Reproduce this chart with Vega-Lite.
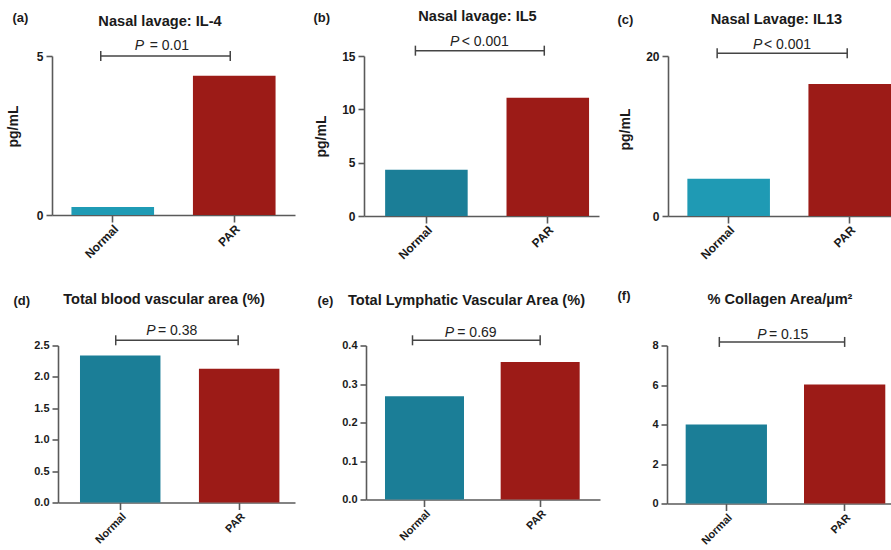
{
  "$schema": "https://vega.github.io/schema/vega-lite/v6.json",
  "background": "white",
  "padding": {"left": 6, "top": 9, "right": 0, "bottom": 0},
  "config": {
    "font": "Liberation Sans",
    "view": {"stroke": null},
    "axis": {"domainColor": "#5a5a5a", "domainWidth": 1.6, "tickColor": "#5a5a5a", "tickWidth": 1.6, "labelColor": "#1a1a1a", "labelFontWeight": "bold", "labelFont": "Liberation Sans", "titleFont": "Liberation Sans", "titleFontWeight": "bold", "titleColor": "#1a1a1a", "grid": false, "labelOverlap": false},
    "axisX": {"labelAngle": -45, "tickSize": 7, "labelPadding": 1, "titleAngle": 0, "titleAlign": "left", "titleBaseline": "middle", "titleFontSize": 13},
    "axisY": {"tickSize": 6, "labelPadding": 3, "titleFontSize": 14, "tickCount": 10},
    "title": {"font": "Liberation Sans", "fontSize": 14.6, "fontWeight": "bold", "color": "#1a1a1a", "anchor": "middle", "frame": "group", "baseline": "alphabetic"}
  },
  "spacing": 26.5,
  "resolve": {"scale": {"color": "independent"}},
  "vconcat": [
    {
      "spacing": 0,
      "bounds": "flush",
      "resolve": {"scale": {"color": "independent"}},
      "hconcat": [
        {
          "width": 243, "height": 159,
          "title": {"text": "Nasal lavage: IL-4", "dx": -13.5, "offset": -17.5},
          "data": {"values": [{"group": "Normal", "value": 0.25}, {"group": "PAR", "value": 4.38}]},
          "layer": [
            {"mark": "bar", "encoding": {
              "x": {"field": "group", "type": "nominal", "scale": {"domain": ["Normal", "PAR"], "paddingInner": 0.32, "paddingOuter": 0.16, "align": 0.5}, "axis": {"title": "(a)", "titleX": -40, "titleY": -198, "labelFontSize": 12}},
              "y": {"field": "value", "type": "quantitative", "scale": {"domain": [0, 5], "nice": false}, "axis": {"title": "pg/mL", "values": [0, 5], "format": "d", "tickCount": 10, "labelOverlap": false, "labelFontSize": 12, "titlePadding": 16, "titleY": 70}},
              "color": {"field": "group", "type": "nominal", "scale": {"domain": ["Normal", "PAR"], "range": ["#1f9bb5", "#9c1b17"]}, "legend": null}}},
            {"data": {"values": [{"from": "Normal", "to": "PAR", "yb": 5, "p": "P", "rest": "= 0.01"}]},
             "layer": [
              {"mark": {"type": "rule", "color": "#444", "strokeWidth": 1.5, "xOffset": -12, "x2Offset": -4}, "encoding": {"x": {"field": "from", "type": "nominal"}, "x2": {"field": "to"}, "y": {"field": "yb", "type": "quantitative"}}},
              {"mark": {"type": "rule", "color": "#444", "strokeWidth": 1.5, "xOffset": -12, "yOffset": -5, "y2Offset": 5}, "encoding": {"x": {"field": "from", "type": "nominal"}, "y": {"field": "yb", "type": "quantitative"}, "y2": {"field": "yb"}}},
              {"mark": {"type": "rule", "color": "#444", "strokeWidth": 1.5, "xOffset": -4, "yOffset": -5, "y2Offset": 5}, "encoding": {"x": {"field": "to", "type": "nominal"}, "y": {"field": "yb", "type": "quantitative"}, "y2": {"field": "yb"}}},
              {"mark": {"type": "text", "fontStyle": "italic", "fontSize": 14, "align": "right", "baseline": "alphabetic", "dx": -29.5, "dy": -6, "color": "#222"}, "encoding": {"y": {"field": "yb", "type": "quantitative"}, "text": {"field": "p"}}},
              {"mark": {"type": "text", "fontSize": 14, "align": "left", "baseline": "alphabetic", "dx": -23.8, "dy": -6, "color": "#222"}, "encoding": {"y": {"field": "yb", "type": "quantitative"}, "text": {"field": "rest"}}}
             ]}
          ]
        },
        {"width": 69, "height": 10, "data": {"values": []}, "mark": "point"},
        {
          "width": 235, "height": 160,
          "title": {"text": "Nasal lavage: IL5", "dx": -4, "offset": -13},
          "data": {"values": [{"group": "Normal", "value": 4.33}, {"group": "PAR", "value": 11.08}]},
          "layer": [
            {"mark": "bar", "encoding": {
              "x": {"field": "group", "type": "nominal", "scale": {"domain": ["Normal", "PAR"], "paddingInner": 0.32, "paddingOuter": 0.128, "align": 0.68}, "axis": {"title": "(b)", "titleX": -51, "titleY": -199, "labelFontSize": 12}},
              "y": {"field": "value", "type": "quantitative", "scale": {"domain": [0, 15], "nice": false}, "axis": {"title": "pg/mL", "values": [0, 5, 10, 15], "format": "d", "tickCount": 10, "labelOverlap": false, "labelFontSize": 12, "titlePadding": 13, "titleY": 80}},
              "color": {"field": "group", "type": "nominal", "scale": {"domain": ["Normal", "PAR"], "range": ["#1b7e97", "#9c1b17"]}, "legend": null}}},
            {"data": {"values": [{"from": "Normal", "to": "PAR", "yb": 15.5, "p": "P", "rest": "< 0.001"}]},
             "layer": [
              {"mark": {"type": "rule", "color": "#444", "strokeWidth": 1.5, "xOffset": -11, "x2Offset": -3.5}, "encoding": {"x": {"field": "from", "type": "nominal"}, "x2": {"field": "to"}, "y": {"field": "yb", "type": "quantitative"}}},
              {"mark": {"type": "rule", "color": "#444", "strokeWidth": 1.5, "xOffset": -11, "yOffset": -5, "y2Offset": 5}, "encoding": {"x": {"field": "from", "type": "nominal"}, "y": {"field": "yb", "type": "quantitative"}, "y2": {"field": "yb"}}},
              {"mark": {"type": "rule", "color": "#444", "strokeWidth": 1.5, "xOffset": -3.5, "yOffset": -5, "y2Offset": 5}, "encoding": {"x": {"field": "to", "type": "nominal"}, "y": {"field": "yb", "type": "quantitative"}, "y2": {"field": "yb"}}},
              {"mark": {"type": "text", "fontStyle": "italic", "fontSize": 14, "align": "right", "baseline": "alphabetic", "dx": -22.2, "dy": -5, "color": "#222"}, "encoding": {"y": {"field": "yb", "type": "quantitative"}, "text": {"field": "p"}}},
              {"mark": {"type": "text", "fontSize": 14, "align": "left", "baseline": "alphabetic", "dx": -19.8, "dy": -5, "color": "#222"}, "encoding": {"y": {"field": "yb", "type": "quantitative"}, "text": {"field": "rest"}}}
             ]}
          ]
        },
        {"width": 69, "height": 10, "data": {"values": []}, "mark": "point"},
        {
          "width": 223, "height": 160,
          "title": {"text": "Nasal Lavage: IL13", "dx": -3, "offset": -14},
          "data": {"values": [{"group": "Normal", "value": 4.67}, {"group": "PAR", "value": 16.5}]},
          "layer": [
            {"mark": "bar", "encoding": {
              "x": {"field": "group", "type": "nominal", "scale": {"domain": ["Normal", "PAR"], "paddingInner": 0.318, "paddingOuter": 0.08, "align": 1}, "axis": {"title": "(c)", "titleX": -51, "titleY": -197, "labelFontSize": 12}},
              "y": {"field": "value", "type": "quantitative", "scale": {"domain": [0, 20], "nice": false}, "axis": {"title": "pg/mL", "values": [0, 20], "format": "d", "tickCount": 10, "labelOverlap": false, "labelFontSize": 12, "titlePadding": 13, "titleY": 73}},
              "color": {"field": "group", "type": "nominal", "scale": {"domain": ["Normal", "PAR"], "range": ["#1f9ab4", "#9c1b17"]}, "legend": null}}},
            {"data": {"values": [{"from": "Normal", "to": "PAR", "yb": 20.34, "p": "P", "rest": "< 0.001"}]},
             "layer": [
              {"mark": {"type": "rule", "color": "#444", "strokeWidth": 1.5, "xOffset": -11.5, "x2Offset": -2.5}, "encoding": {"x": {"field": "from", "type": "nominal"}, "x2": {"field": "to"}, "y": {"field": "yb", "type": "quantitative"}}},
              {"mark": {"type": "rule", "color": "#444", "strokeWidth": 1.5, "xOffset": -11.5, "yOffset": -5, "y2Offset": 5}, "encoding": {"x": {"field": "from", "type": "nominal"}, "y": {"field": "yb", "type": "quantitative"}, "y2": {"field": "yb"}}},
              {"mark": {"type": "rule", "color": "#444", "strokeWidth": 1.5, "xOffset": -2.5, "yOffset": -5, "y2Offset": 5}, "encoding": {"x": {"field": "to", "type": "nominal"}, "y": {"field": "yb", "type": "quantitative"}, "y2": {"field": "yb"}}},
              {"mark": {"type": "text", "fontStyle": "italic", "fontSize": 14, "align": "right", "baseline": "alphabetic", "dx": -17.2, "dy": -4.3, "color": "#222"}, "encoding": {"y": {"field": "yb", "type": "quantitative"}, "text": {"field": "p"}}},
              {"mark": {"type": "text", "fontSize": 14, "align": "left", "baseline": "alphabetic", "dx": -15.5, "dy": -4.3, "color": "#222"}, "encoding": {"y": {"field": "yb", "type": "quantitative"}, "text": {"field": "rest"}}}
             ]}
          ]
        }
      ]
    },
    {
      "spacing": 0,
      "bounds": "flush",
      "resolve": {"scale": {"color": "independent"}},
      "hconcat": [
        {"width": 6, "height": 10, "data": {"values": []}, "mark": "point"},
        {
          "width": 237, "height": 157,
          "title": {"text": "Total blood vascular area (%)", "dx": -12.5, "offset": -12.5},
          "data": {"values": [{"group": "Normal", "value": 2.34}, {"group": "PAR", "value": 2.13}]},
          "layer": [
            {"mark": "bar", "encoding": {
              "x": {"field": "group", "type": "nominal", "scale": {"domain": ["Normal", "PAR"], "paddingInner": 0.3235, "paddingOuter": 0.158, "align": 0.585}, "axis": {"title": "(d)", "titleX": -45, "titleY": -202, "labelFontSize": 11}},
              "y": {"field": "value", "type": "quantitative", "scale": {"domain": [0, 2.5], "nice": false}, "axis": {"title": null, "values": [0, 0.5, 1, 1.5, 2, 2.5], "tickCount": 10, "format": ".1f", "labelOverlap": false, "labelFontSize": 11}},
              "color": {"field": "group", "type": "nominal", "scale": {"domain": ["Normal", "PAR"], "range": ["#1b7e97", "#9c1b17"]}, "legend": null}}},
            {"data": {"values": [{"from": "Normal", "to": "PAR", "yb": 2.583, "p": "P", "rest": "= 0.38"}]},
             "layer": [
              {"mark": {"type": "rule", "color": "#444", "strokeWidth": 1.5, "xOffset": -4.5, "x2Offset": -1}, "encoding": {"x": {"field": "from", "type": "nominal"}, "x2": {"field": "to"}, "y": {"field": "yb", "type": "quantitative"}}},
              {"mark": {"type": "rule", "color": "#444", "strokeWidth": 1.5, "xOffset": -4.5, "yOffset": -5, "y2Offset": 5}, "encoding": {"x": {"field": "from", "type": "nominal"}, "y": {"field": "yb", "type": "quantitative"}, "y2": {"field": "yb"}}},
              {"mark": {"type": "rule", "color": "#444", "strokeWidth": 1.5, "xOffset": -1, "yOffset": -5, "y2Offset": 5}, "encoding": {"x": {"field": "to", "type": "nominal"}, "y": {"field": "yb", "type": "quantitative"}, "y2": {"field": "yb"}}},
              {"mark": {"type": "text", "fontStyle": "italic", "fontSize": 14, "align": "right", "baseline": "alphabetic", "dx": -20.8, "dy": -5.3, "color": "#222"}, "encoding": {"y": {"field": "yb", "type": "quantitative"}, "text": {"field": "p"}}},
              {"mark": {"type": "text", "fontSize": 14, "align": "left", "baseline": "alphabetic", "dx": -18.5, "dy": -5.3, "color": "#222"}, "encoding": {"y": {"field": "yb", "type": "quantitative"}, "text": {"field": "rest"}}}
             ]}
          ]
        },
        {"width": 71, "height": 10, "data": {"values": []}, "mark": "point"},
        {
          "width": 234, "height": 154,
          "title": {"text": "Total Lymphatic Vascular Area (%)", "dx": -16.5, "offset": -13.5},
          "data": {"values": [{"group": "Normal", "value": 0.268}, {"group": "PAR", "value": 0.357}]},
          "layer": [
            {"mark": "bar", "encoding": {
              "x": {"field": "group", "type": "nominal", "scale": {"domain": ["Normal", "PAR"], "paddingInner": 0.317, "paddingOuter": 0.17, "align": 0.483}, "axis": {"title": "(e)", "titleX": -49, "titleY": -199.5, "labelFontSize": 11}},
              "y": {"field": "value", "type": "quantitative", "scale": {"domain": [0, 0.4], "nice": false}, "axis": {"title": null, "values": [0, 0.1, 0.2, 0.3, 0.4], "tickCount": 10, "format": ".1f", "labelOverlap": false, "labelFontSize": 11}},
              "color": {"field": "group", "type": "nominal", "scale": {"domain": ["Normal", "PAR"], "range": ["#1b7e97", "#9c1b17"]}, "legend": null}}},
            {"data": {"values": [{"from": "Normal", "to": "PAR", "yb": 0.4135, "p": "P", "rest": "= 0.69"}]},
             "layer": [
              {"mark": {"type": "rule", "color": "#444", "strokeWidth": 1.5, "xOffset": -12, "x2Offset": 0}, "encoding": {"x": {"field": "from", "type": "nominal"}, "x2": {"field": "to"}, "y": {"field": "yb", "type": "quantitative"}}},
              {"mark": {"type": "rule", "color": "#444", "strokeWidth": 1.5, "xOffset": -12, "yOffset": -5, "y2Offset": 5}, "encoding": {"x": {"field": "from", "type": "nominal"}, "y": {"field": "yb", "type": "quantitative"}, "y2": {"field": "yb"}}},
              {"mark": {"type": "rule", "color": "#444", "strokeWidth": 1.5, "xOffset": 0, "yOffset": -5, "y2Offset": 5}, "encoding": {"x": {"field": "to", "type": "nominal"}, "y": {"field": "yb", "type": "quantitative"}, "y2": {"field": "yb"}}},
              {"mark": {"type": "text", "fontStyle": "italic", "fontSize": 14, "align": "right", "baseline": "alphabetic", "dx": -29, "dy": -3, "color": "#222"}, "encoding": {"y": {"field": "yb", "type": "quantitative"}, "text": {"field": "p"}}},
              {"mark": {"type": "text", "fontSize": 14, "align": "left", "baseline": "alphabetic", "dx": -25.7, "dy": -3, "color": "#222"}, "encoding": {"y": {"field": "yb", "type": "quantitative"}, "text": {"field": "rest"}}}
             ]}
          ]
        },
        {"width": 67, "height": 10, "data": {"values": []}, "mark": "point"},
        {
          "width": 224, "height": 158,
          "title": {"text": "% Collagen Area/µm²", "dx": 1, "offset": -18},
          "data": {"values": [{"group": "Normal", "value": 4.0}, {"group": "PAR", "value": 6.03}]},
          "layer": [
            {"mark": "bar", "encoding": {
              "x": {"field": "group", "type": "nominal", "scale": {"domain": ["Normal", "PAR"], "paddingInner": 0.313, "paddingOuter": 0.103, "align": 0.766}, "axis": {"title": "(f)", "titleX": -50, "titleY": -208.5, "labelFontSize": 11}},
              "y": {"field": "value", "type": "quantitative", "scale": {"domain": [0, 8], "nice": false}, "axis": {"title": null, "values": [0, 2, 4, 6, 8], "format": "d", "tickCount": 10, "labelOverlap": false, "labelFontSize": 11}},
              "color": {"field": "group", "type": "nominal", "scale": {"domain": ["Normal", "PAR"], "range": ["#1b7e97", "#9c1b17"]}, "legend": null}}},
            {"data": {"values": [{"from": "Normal", "to": "PAR", "yb": 8.18, "p": "P", "rest": "= 0.15"}]},
             "layer": [
              {"mark": {"type": "rule", "color": "#444", "strokeWidth": 1.5, "xOffset": -7, "x2Offset": 0}, "encoding": {"x": {"field": "from", "type": "nominal"}, "x2": {"field": "to"}, "y": {"field": "yb", "type": "quantitative"}}},
              {"mark": {"type": "rule", "color": "#444", "strokeWidth": 1.5, "xOffset": -7, "yOffset": -5, "y2Offset": 5}, "encoding": {"x": {"field": "from", "type": "nominal"}, "y": {"field": "yb", "type": "quantitative"}, "y2": {"field": "yb"}}},
              {"mark": {"type": "rule", "color": "#444", "strokeWidth": 1.5, "xOffset": 0, "yOffset": -5, "y2Offset": 5}, "encoding": {"x": {"field": "to", "type": "nominal"}, "y": {"field": "yb", "type": "quantitative"}, "y2": {"field": "yb"}}},
              {"mark": {"type": "text", "fontStyle": "italic", "fontSize": 14, "align": "right", "baseline": "alphabetic", "dx": -12.3, "dy": -2.5, "color": "#222"}, "encoding": {"y": {"field": "yb", "type": "quantitative"}, "text": {"field": "p"}}},
              {"mark": {"type": "text", "fontSize": 14, "align": "left", "baseline": "alphabetic", "dx": -10, "dy": -2.5, "color": "#222"}, "encoding": {"y": {"field": "yb", "type": "quantitative"}, "text": {"field": "rest"}}}
             ]}
          ]
        }
      ]
    }
  ]
}
